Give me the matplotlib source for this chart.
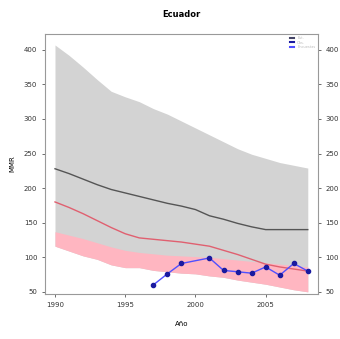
import numpy as np
import matplotlib.pyplot as plt

# datos
years = np.arange(1990, 2009)
gray_upper = [407, 392, 375, 357, 340, 332, 325, 315, 307, 297, 287, 277, 267, 257, 249, 243, 237, 233, 229]
black_line = [228, 221, 213, 205, 198, 193, 188, 183, 178, 174, 169, 160, 155, 149, 144, 140, 140, 140, 140]
red_line = [180, 172, 163, 153, 143, 134, 128, 126, 124, 122, 119, 116, 110, 104, 97, 90, 86, 83, 80]
pink_upper = [137, 132, 127, 121, 115, 110, 107, 105, 103, 102, 101, 100, 98, 96, 94, 92, 90, 88, 86]
pink_lower = [116, 109, 102, 97, 89, 85, 85, 81, 79, 77, 76, 73, 71, 67, 64, 61, 57, 53, 50]

obs_years = [1997, 1998, 1999, 2001, 2002, 2003, 2004, 2005, 2006, 2007, 2008]
obs_mmr = [60, 76, 91, 99, 81, 79, 77, 86, 74, 91, 80]

fig = plt.figure(figsize=(3.4, 3.39), dpi=100)
ax = fig.add_axes([0.132, 0.133, 0.803, 0.767])

ax.fill_between(years, pink_lower, gray_upper, color='#d3d3d3', linewidth=0)
ax.fill_between(years, pink_lower, pink_upper, color='#ffb6c1', linewidth=0)
ax.plot(years, black_line, color='#555555', lw=1)
ax.plot(years, red_line, color='#e06070', lw=1)
ax.plot(obs_years, obs_mmr, color='#5050ff', lw=1, marker='o', ms=3,
        mfc='#1a1aa0', mec='#1a1aa0', label='Obs.')

ax.set_xlim(1989.28, 2008.72)
ax.set_ylim(47, 423)
ax.set_xticks([1990, 1995, 2000, 2005])
ax.set_yticks(np.arange(50, 401, 50))
ax.tick_params(labelsize=5, length=2, width=0.5, right=True, labelright=True, colors='#333333')
for s in ax.spines.values():
    s.set_color('#999999')
    s.set_linewidth(0.8)

ax.set_title('Ecuador', fontsize=6, fontweight='bold', pad=12)
ax.set_xlabel('Año', fontsize=5, labelpad=10)
ax.set_ylabel('MMR', fontsize=5, labelpad=6)

leg_h = [plt.Line2D([], [], color='#444466', lw=1.5),
         plt.Line2D([], [], color='#1a1aa0', lw=1.5),
         plt.Line2D([], [], color='#5050ff', lw=1.5)]
ax.legend(leg_h, ['Est.', 'Obs.', 'Encuestas'], loc='upper right', fontsize=2.5,
          frameon=False, handlelength=1.2, labelspacing=0.1, borderaxespad=0.3,
          labelcolor='#bbbbbb')

fig.savefig('out.png', dpi=100)
